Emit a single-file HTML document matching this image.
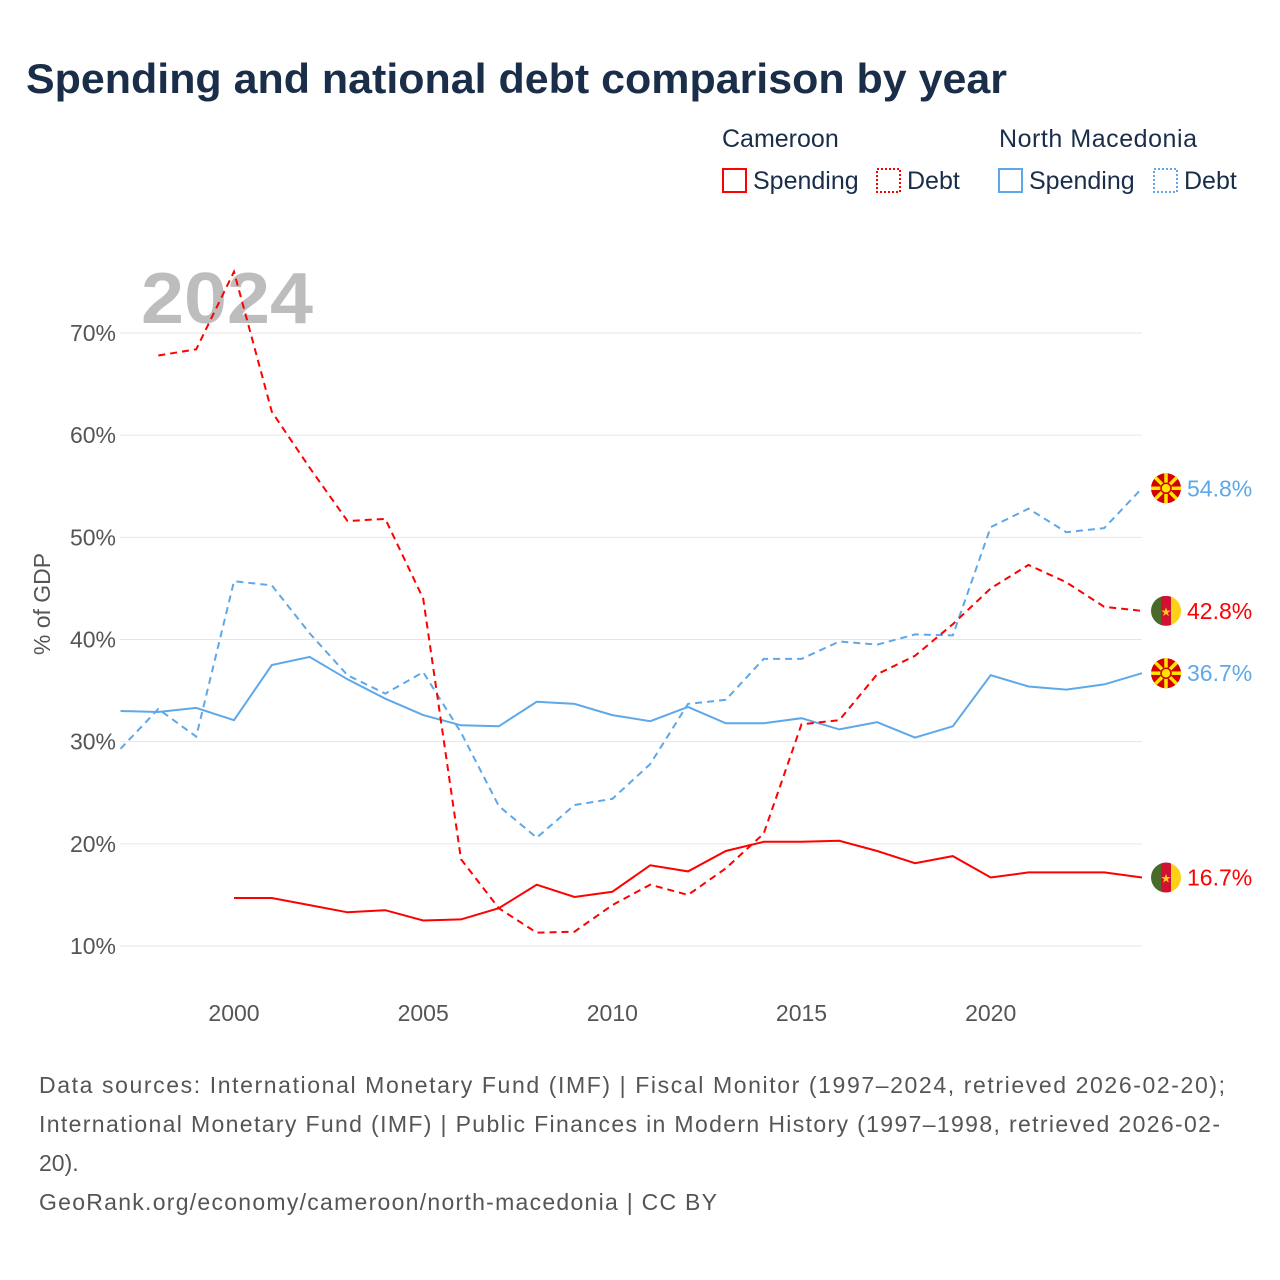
<!DOCTYPE html>
<html><head><meta charset="utf-8"><style>
body{margin:0;background:#fff;font-family:"Liberation Sans",sans-serif;}
svg{display:block}
</style></head><body>
<svg id="chart" width="1280" height="1280" xmlns="http://www.w3.org/2000/svg">
<text x="26" y="93" font-size="42" font-weight="bold" fill="#1a2e4a" textLength="981" lengthAdjust="spacingAndGlyphs">Spending and national debt comparison by year</text>
<g font-size="25" fill="#1a2e4a">
<text x="722" y="147">Cameroon</text>
<text x="999" y="147" textLength="198">North Macedonia</text>
<rect x="723" y="169" width="23" height="23" fill="none" stroke="#f00" stroke-width="2"/>
<text x="753" y="189">Spending</text>
<rect x="877" y="169" width="23" height="23" fill="none" stroke="#f00" stroke-width="2" stroke-dasharray="2,2"/>
<text x="907" y="189">Debt</text>
<rect x="999" y="169" width="23" height="23" fill="none" stroke="#5ea8ea" stroke-width="2"/>
<text x="1029" y="189">Spending</text>
<rect x="1154" y="169" width="23" height="23" fill="none" stroke="#5ea8ea" stroke-width="2" stroke-dasharray="2,2"/>
<text x="1184" y="189">Debt</text>
</g>
<text x="141" y="323" font-size="72" font-weight="bold" fill="#bdbdbd" textLength="172" lengthAdjust="spacingAndGlyphs">2024</text>
<g id="grid"></g>
<g id="series"></g>
<text transform="translate(50,604) rotate(-90)" text-anchor="middle" font-size="23" fill="#555">% of GDP</text>
<g font-size="23" fill="#555">
<text x="39" y="1093" textLength="1186">Data sources: International Monetary Fund (IMF) | Fiscal Monitor (1997–2024, retrieved 2026-02-20);</text>
<text x="39" y="1132" textLength="1181">International Monetary Fund (IMF) | Public Finances in Modern History (1997–1998, retrieved 2026-02-</text>
<text x="39" y="1171">20).</text>
<text x="39" y="1210" textLength="678">GeoRank.org/economy/cameroon/north-macedonia | CC BY</text>
</g>
</svg>
<script>
const years = [1997,1998,1999,2000,2001,2002,2003,2004,2005,2006,2007,2008,2009,2010,2011,2012,2013,2014,2015,2016,2017,2018,2019,2020,2021,2022,2023,2024];
const cmrDebt = [null,67.8,68.4,76,62.3,56.8,51.6,51.8,44,18.5,13.7,11.3,11.4,14,16,15,17.6,21,31.7,32.1,36.6,38.4,41.5,45,47.3,45.6,43.2,42.8];
const cmrSpending = [null,null,null,14.7,14.7,14,13.3,13.5,12.5,12.6,13.7,16,14.8,15.3,17.9,17.3,19.3,20.2,20.2,20.3,19.3,18.1,18.8,16.7,17.2,17.2,17.2,16.7];
const mkdSpending = [33,32.9,33.3,32.1,37.5,38.3,36.1,34.2,32.6,31.6,31.5,33.9,33.7,32.6,32,33.4,31.8,31.8,32.3,31.2,31.9,30.4,31.5,36.5,35.4,35.1,35.6,36.7];
const mkdDebt = [29.3,33.2,30.5,45.7,45.3,40.6,36.5,34.7,36.8,30.9,23.7,20.6,23.8,24.4,27.8,33.7,34.1,38.1,38.1,39.8,39.5,40.5,40.4,51,52.8,50.5,50.9,54.8];
const yTicks = [10,20,30,40,50,60,70];
const xTicks = [2000,2005,2010,2015,2020];

const NS='http://www.w3.org/2000/svg';
const X = y => 120.5 + (y-1997)*(1142-120.5)/27;
const Y = v => 946 - (v-10)*10.217;
function mk(tag, attrs, parent){const e=document.createElementNS(NS,tag);for(const k in attrs)e.setAttribute(k,attrs[k]);parent.appendChild(e);return e;}
const grid=document.getElementById('grid'), ser=document.getElementById('series');
yTicks.forEach(t=>{
  const l=mk('line',{x1:120,x2:1142,y1:Y(t),y2:Y(t),stroke:'#e6e6e6','stroke-width':1},grid);
  
  
  const tx=mk('text',{x:116,y:Y(t)+8,'text-anchor':'end','font-size':23,fill:'#555'},grid);
  tx.textContent=t+'%';
  
  
});
xTicks.forEach(t=>{
  const tx=mk('text',{x:X(t),y:1021,'text-anchor':'middle','font-size':23,fill:'#555'},grid);
  tx.textContent=t;
  
  
});
function line(vals,color,dash,name){
  let d='';
  vals.forEach((v,i)=>{if(v==null)return;d+=(d?'L':'M')+X(years[i]).toFixed(1)+','+Y(v).toFixed(1);});
  const p=mk('path',{d:d,fill:'none',stroke:color,'stroke-width':2,'stroke-dasharray':dash||'none'},ser);
  
  
}
line(mkdSpending,'#5ea8ea',null,'line-nm-spending');
line(mkdDebt,'#5ea8ea','7,5','line-nm-debt');
line(cmrSpending,'#f00',null,'line-cameroon-spending');
line(cmrDebt,'#f00','7,5','line-cameroon-debt');
function flag(v,type,color,name){
  const cx=1166, cy=Y(v);
  const g=mk('g',{},ser);
  
  
  if(type==='cm'){
    const cp=mk('clipPath',{id:'c'+name},g);
    mk('circle',{cx:cx,cy:cy,r:15},cp);
    const gg=mk('g',{'clip-path':'url(#c'+name+')'},g);
    mk('rect',{x:cx-15,y:cy-15,width:10,height:30,fill:'#4a6a2a'},gg);
    mk('rect',{x:cx-5,y:cy-15,width:10,height:30,fill:'#d21034'},gg);
    mk('rect',{x:cx+5,y:cy-15,width:10,height:30,fill:'#fcd116'},gg);
    mk('text',{x:cx,y:cy+5,'text-anchor':'middle','font-size':12,fill:'#fcd116'},gg).textContent='★';
  } else {
    mk('circle',{cx:cx,cy:cy,r:15,fill:'#d20000'},g);
    for(let k=0;k<8;k++){const a=k*Math.PI/4;
      mk('line',{x1:cx,y1:cy,x2:cx+15*Math.cos(a),y2:cy+15*Math.sin(a),stroke:'#ffe600','stroke-width':3.5},g);}
    mk('circle',{cx:cx,cy:cy,r:5,fill:'#ffe600',stroke:'#d20000','stroke-width':1.5},g);
  }
  const t=mk('text',{x:1187,y:cy+8,'font-size':23,fill:color},ser);
  t.textContent=v.toFixed(1)+'%';
  
  
}
flag(mkdDebt[27],'mk','#5ea8ea','nm-debt');
flag(cmrDebt[27],'cm','#f00','cameroon-debt');
flag(mkdSpending[27],'mk','#5ea8ea','nm-spending');
flag(cmrSpending[27],'cm','#f00','cameroon-spending');
</script>
</body></html>
